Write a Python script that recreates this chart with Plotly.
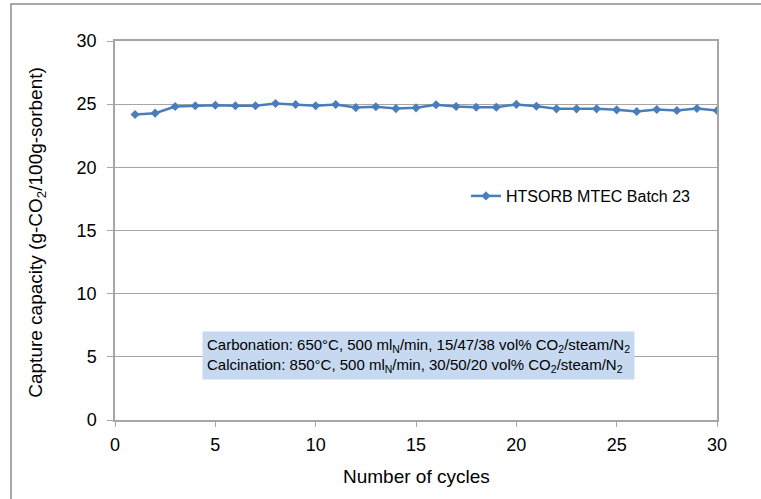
import plotly.graph_objects as go

cycles = list(range(1, 31))
capacity = [24.18, 24.29, 24.81, 24.87, 24.92, 24.87, 24.87, 25.05, 24.97, 24.87,
            24.97, 24.73, 24.79, 24.65, 24.71, 24.95, 24.82, 24.76, 24.76, 24.98,
            24.84, 24.63, 24.63, 24.63, 24.55, 24.42, 24.58, 24.50, 24.66, 24.50]
series_name = "HTSORB MTEC Batch 23"
x_ticks = [0, 5, 10, 15, 20, 25, 30]
y_ticks = [0, 5, 10, 15, 20, 25, 30]

FONT = "Liberation Sans, Arial, sans-serif"
GRID = "#a6a6a6"
BLUE = "#4a7ebb"

fig = go.Figure()
fig.add_trace(go.Scatter(
    x=cycles, y=capacity, name=series_name, mode="lines+markers",
    line=dict(color=BLUE, width=2.5),
    marker=dict(symbol="diamond", size=7, color=BLUE),
))

fig.update_layout(
    width=761, height=499,
    margin=dict(l=115, r=44, t=41, b=79),
    paper_bgcolor="white", plot_bgcolor="white",
    font=dict(family=FONT, size=15, color="#000000"),
    showlegend=True,
    legend=dict(x=0.583, y=0.591, xanchor="left", yanchor="middle",
                bgcolor="rgba(0,0,0,0)", font=dict(size=16),
                itemwidth=30),
    xaxis=dict(range=[0, 30], tickvals=x_ticks, showgrid=False, zeroline=False,
               showline=True, linecolor=GRID, linewidth=1.5, mirror=True,
               ticks="outside", ticklen=5, tickcolor=GRID, tickfont=dict(size=18),
               ticklabelstandoff=3),
    yaxis=dict(range=[0, 30], tickvals=y_ticks, showgrid=True, gridcolor=GRID,
               gridwidth=1, zeroline=False,
               showline=True, linecolor=GRID, linewidth=1.5, mirror=True,
               ticks="outside", ticklen=6, tickcolor=GRID, tickfont=dict(size=18),
               ticklabelstandoff=7),
    shapes=[dict(type="rect", xref="paper", yref="paper",
                 x0=-0.1728, x1=1.3, y0=-0.4, y1=1.0976,
                 line=dict(color="#8c8c8c", width=1.5), fillcolor="rgba(0,0,0,0)",
                 layer="below")],
    annotations=[
        dict(text="Capture capacity (g-CO<sub>2</sub>/100g-sorbent)", textangle=-90,
             xref="paper", yref="paper", x=-0.13, y=0.496, showarrow=False,
             xanchor="center", yanchor="middle", font=dict(size=19)),
        dict(text="Number of cycles", xref="paper", yref="paper", x=0.5, y=-0.148,
             showarrow=False, xanchor="center", yanchor="middle", font=dict(size=19)),
        dict(text="Carbonation: 650°C, 500 ml<sub>N</sub>/min, 15/47/38 vol% CO<sub>2</sub>/steam/N<sub>2</sub><br>"
                  "Calcination: 850°C, 500 ml<sub>N</sub>/min, 30/50/20 vol% CO<sub>2</sub>/steam/N<sub>2</sub>",
             xref="paper", yref="paper", x=0.5046, y=0.1715, showarrow=False,
             xanchor="center", yanchor="middle", align="left",
             bgcolor="#c6d9f1", borderpad=4, font=dict(size=15)),
    ],
)

fig.write_html("out.html")
